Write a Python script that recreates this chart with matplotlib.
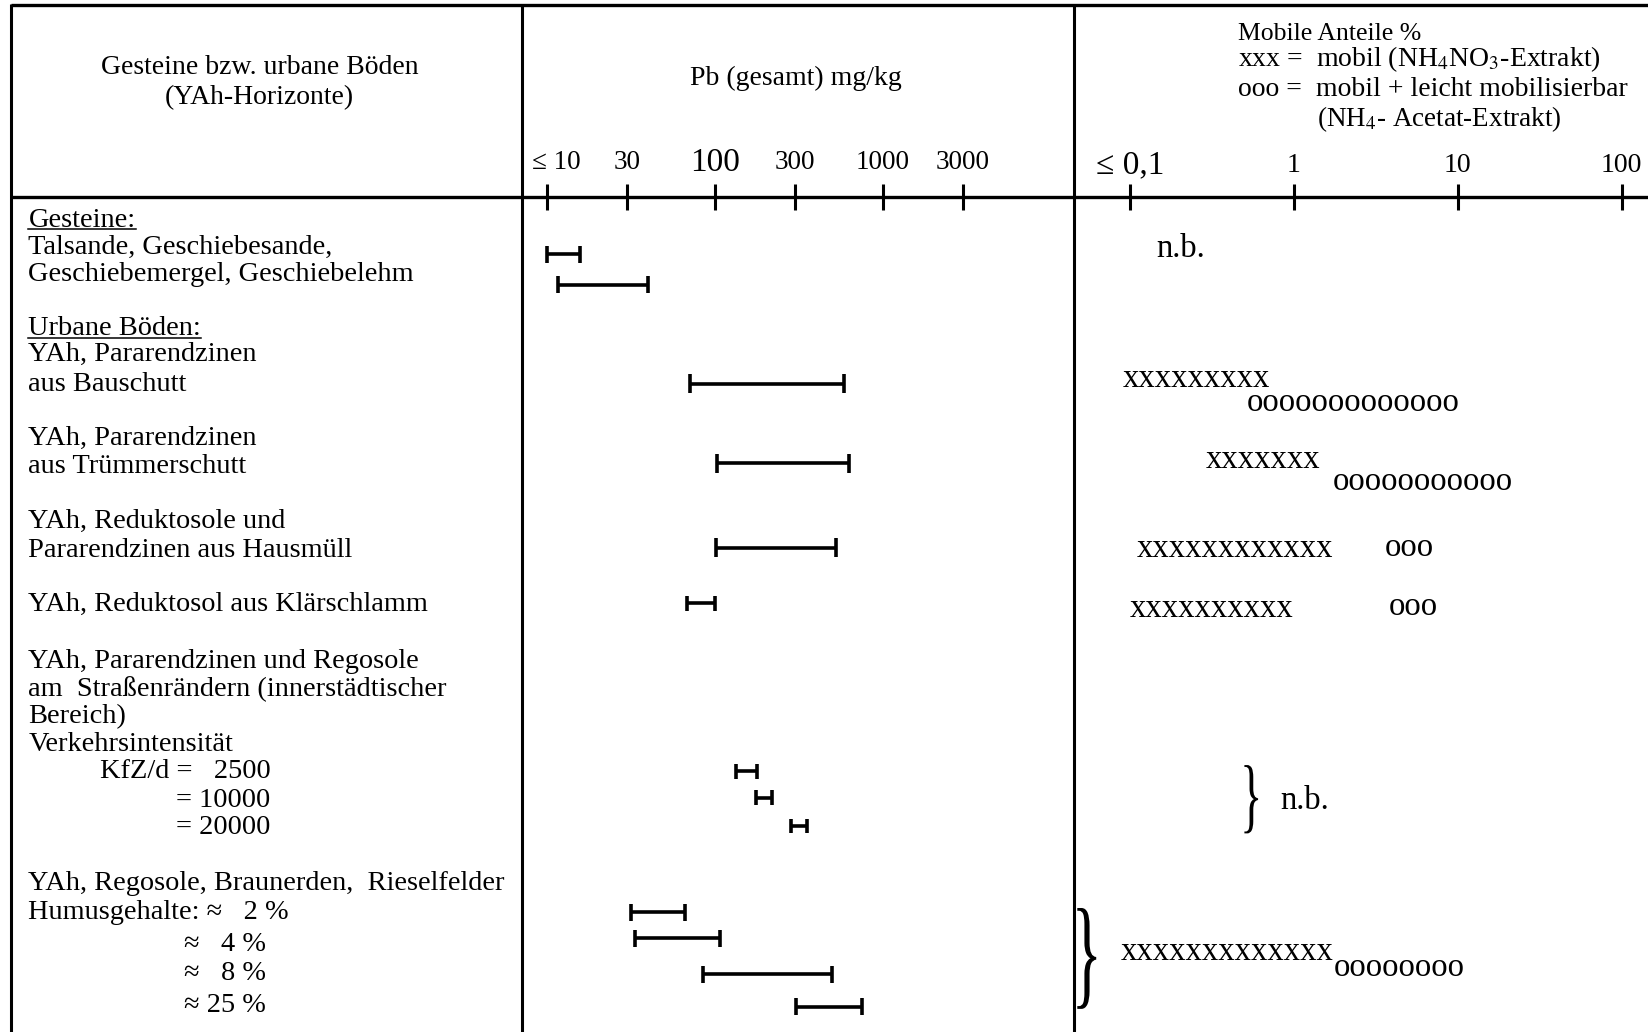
import numpy as np
import matplotlib
matplotlib.use("Agg")
import matplotlib.pyplot as plt
from matplotlib.textpath import TextPath
from matplotlib.patches import PathPatch
from matplotlib.font_manager import FontProperties
from matplotlib.transforms import Affine2D

plt.rcParams['font.family'] = ['Liberation Serif', 'DejaVu Serif']
plt.rcParams['mathtext.fontset'] = 'stix'

# --- data ---
pb_ticks = [10, 30, 100, 300, 1000, 3000]
pb_tick_labels = ["≤ 10", "30", "100", "300", "1000", "3000"]
mob_ticks = [0.1, 1, 10, 100]
mob_tick_labels = ["≤ 0,1", "1", "10", "100"]

# Pb (gesamt) ranges in mg/kg, one per bar
pb_low = [10, 11.7, 71, 103, 102, 68, 133, 176, 284, 31.6, 33.5, 85, 305]
pb_high = [15.8, 40, 590, 630, 530, 101, 178, 218, 356, 67, 107, 500, 750]

# mobile Anteile in %: start of the xxx / ooo runs and their lengths
mob_groups = ["Bauschutt", "Trümmerschutt", "Hausmüll", "Klärschlamm", "Rieselfelder"]
mob_x_start = [0.09, 0.29, 0.11, 0.10, 0.088]
mob_x_count = [9, 7, 12, 10, 13]
mob_o_start = [0.52, 1.73, 3.6, 3.8, 1.75]
mob_o_count = [13, 11, 3, 3, 8]

# --- layout (units = pixels of a 1568 x 982 page) ---
W, H = 1568, 982
dy = 2.5  # text centre offset
bar_y = [242, 271, 365, 441, 521, 574, 734, 759, 786, 868, 893, 927, 958]
bar_cap = [8, 8, 9, 9, 9, 7, 7, 7, 7, 8, 8, 8, 8]
mob_x_y = [358, 435, 520, 577, 903]
mob_o_y = [381, 456, 519, 575, 918]

left_lines = [
    ("Gesteine:", 27, 207),
    ("Talsande, Geschiebesande,", 27, 233),
    ("Geschiebemergel, Geschiebelehm", 27, 259),
    ("Urbane Böden:", 27, 310),
    ("YAh, Pararendzinen", 27, 335),
    ("aus Bauschutt", 27, 363),
    ("YAh, Pararendzinen", 27, 415),
    ("aus Trümmerschutt", 27, 441),
    ("YAh, Reduktosole und", 27, 494),
    ("Pararendzinen aus Hausmüll", 27, 521),
    ("YAh, Reduktosol aus Klärschlamm", 27, 573),
    ("YAh, Pararendzinen und Regosole", 27, 627),
    ("am  Straßenrändern (innerstädtischer", 27, 653),
    ("Bereich)", 27, 679),
    ("Verkehrsintensität", 27, 706),
    ("KfZ/d =   2500", 95, 732),
    ("= 10000", 167, 759),
    ("= 20000", 167, 785),
    ("YAh, Regosole, Braunerden,  Rieselfelder", 27, 838),
    ("Humusgehalte: ≈   2 %", 27, 866),
    ("≈   4 %", 175, 896),
    ("≈   8 %", 175, 924),
    ("≈ 25 %", 175, 954),
]
underlined = ["Gesteine:", "Urbane Böden:"]

fig = plt.figure(figsize=(16.48, 10.32), dpi=100)
base = fig.add_axes([0, 0, 1, 1])
base.set_xlim(0, W)
base.set_ylim(H, 0)
base.axis('off')

# Pb column axis: 160 px per decade, 10 mg/kg at x=520
pb_x0, pb_x1 = 497, 1022
ax_pb = fig.add_axes([pb_x0 / W, 0, (pb_x1 - pb_x0) / W, 1])
ax_pb.set_xscale('log')
ax_pb.set_xlim(10 ** (1 - (520 - pb_x0) / 160), 10 ** (1 + (pb_x1 - 520) / 160))
ax_pb.set_ylim(H, 0)
ax_pb.axis('off')

# mobile column axis: 156 px per decade, 0.1 % at x=1075
mb_x0, mb_x1 = 1022, W
ax_mb = fig.add_axes([mb_x0 / W, 0, (mb_x1 - mb_x0) / W, 1])
ax_mb.set_xscale('log')
ax_mb.set_xlim(10 ** (-1 - (1075 - mb_x0) / 156), 10 ** (-1 + (mb_x1 - 1075) / 156))
ax_mb.set_ylim(H, 0)
ax_mb.axis('off')

# table frame
lw_frame = 2.4
base.plot([10, W], [5, 5], color='black', lw=lw_frame, solid_capstyle='butt')
base.plot([10, W], [187, 187], color='black', lw=lw_frame, solid_capstyle='butt')
for xv in [10, pb_x0, pb_x1]:
    base.plot([xv, xv], [4, H], color='black', lw=2.2, solid_capstyle='butt')

# header texts
fs = 20.4
base.text(247, 62 + dy, "Gesteine bzw. urbane Böden", ha='center', va='center', fontsize=20)
base.text(247, 90 + dy, "(YAh-Horizonte)", ha='center', va='center', fontsize=20)
base.text(757, 72 + dy, "Pb (gesamt) mg/kg", ha='center', va='center', fontsize=20)
base.text(1178, 30 + dy, "Mobile Anteile %", ha='left', va='center', fontsize=18.5)
base.text(1178, 54 + dy, r"xxx =  mobil (NH$_{4}$NO$_{3}$-Extrakt)", ha='left', va='center', fontsize=20)
base.text(1178, 83 + dy, "ooo =  mobil + leicht mobilisierbar", ha='left', va='center', fontsize=20)
base.text(1253, 111 + dy, r"(NH$_{4}$- Acetat-Extrakt)", ha='left', va='center', fontsize=19.5)

# ticks and tick labels
ax_pb.vlines(pb_ticks, 175, 200, color='black', lw=2.2)
for v, lab in zip(pb_ticks, pb_tick_labels):
    size = 24 if lab == "100" else 19.5
    shift = 7 if lab.startswith("≤") else 0
    ax_pb.annotate(lab, (v, 152 + dy), xytext=(shift, 0), textcoords='offset points',
                   ha='center', va='center', fontsize=size)
ax_mb.vlines(mob_ticks, 175, 200, color='black', lw=2.2)
for v, lab in zip(mob_ticks, mob_tick_labels):
    size = 24 if lab.startswith("≤") else 20
    ax_mb.text(v, 155 + dy, lab, ha='center', va='center', fontsize=size)

# left column
text_objs = []
for s, xv, yv in left_lines:
    t = base.text(xv, yv + dy, s, ha='left', va='center', fontsize=fs)
    text_objs.append((s, t))

# Pb ranges
for lo, hi, yv, c in zip(pb_low, pb_high, bar_y, bar_cap):
    ax_pb.hlines(yv, lo, hi, color='black', lw=2.6)
    ax_pb.vlines([lo, hi], yv - c, yv + c, color='black', lw=2.6)

# mobile fractions
fs_mob = 23.5
for xs, xn, xy, os_, on, oy in zip(mob_x_start, mob_x_count, mob_x_y,
                                   mob_o_start, mob_o_count, mob_o_y):
    ax_mb.text(xs, xy + dy, "x" * xn, ha='left', va='center', fontsize=fs_mob)
    ax_mb.text(os_, oy + dy, "o" * on, ha='left', va='center', fontsize=fs_mob)

base.text(1100, 234 + dy, "n.b.", ha='left', va='center', fontsize=fs_mob)
base.text(1218, 759 + dy, "n.b.", ha='left', va='center', fontsize=fs_mob)


def brace(ax, x0, x1, y0, y1):
    tp = TextPath((0, 0), "}", size=1, prop=FontProperties(family='Liberation Serif'))
    ext = tp.get_extents()
    tr = (Affine2D().translate(-ext.x0, -ext.y0)
          .scale((x1 - x0) / ext.width, -(y1 - y0) / ext.height)
          .translate(x0, y1))
    ax.add_patch(PathPatch(tr.transform_path(tp), facecolor='black', edgecolor='none'))


brace(base, 1184, 1197, 728, 793)
brace(base, 1025, 1043, 864, 960)

# underline the two section headings
fig.canvas.draw()
renderer = fig.canvas.get_renderer()
inv = base.transData.inverted()
for s, t in text_objs:
    if s in underlined:
        bb = t.get_window_extent(renderer)
        p0 = inv.transform((bb.x0, bb.y0 + 0.13 * bb.height))
        p1 = inv.transform((bb.x1, bb.y0 + 0.13 * bb.height))
        base.plot([p0[0], p1[0]], [p0[1], p1[1]], color='black', lw=1.1)

fig.savefig("out.png", dpi=100)
